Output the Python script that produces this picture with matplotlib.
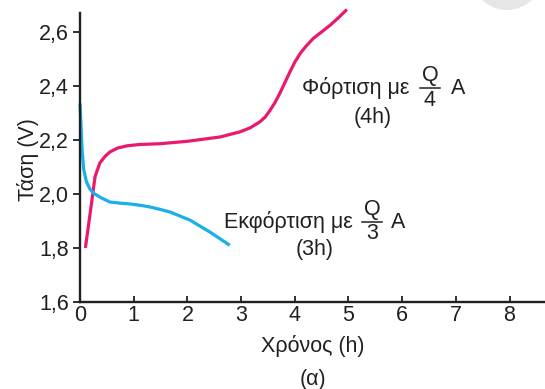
import matplotlib
matplotlib.use("Agg")
import matplotlib.pyplot as plt
from matplotlib.lines import Line2D
from matplotlib.patches import Circle
from matplotlib.transforms import IdentityTransform

plt.rcParams['font.family'] = ['Liberation Sans', 'DejaVu Sans']

# Data
charge_x = [0.10, 0.19, 0.28, 0.37, 0.47, 0.56, 0.70, 0.87, 1.10, 1.49, 2.00, 2.61,
            2.98, 3.17, 3.35, 3.45, 3.54, 3.63, 3.72, 3.91, 4.00, 4.10, 4.20, 4.34,
            4.50, 4.66, 4.80, 4.97]
charge_y = [1.80, 1.93, 2.064, 2.115, 2.140, 2.156, 2.170, 2.178, 2.183, 2.186, 2.195, 2.211,
            2.230, 2.245, 2.267, 2.285, 2.310, 2.338, 2.372, 2.452, 2.488, 2.520, 2.545, 2.575,
            2.600, 2.625, 2.650, 2.683]
discharge_x = [0.0, 0.02, 0.04, 0.07, 0.12, 0.18, 0.25, 0.40, 0.56, 0.75, 0.93, 1.12, 1.30,
               1.49, 1.68, 2.05, 2.42, 2.79]
discharge_y = [2.335, 2.25, 2.16, 2.09, 2.045, 2.02, 2.003, 1.985, 1.970, 1.966, 1.963, 1.958,
               1.952, 1.943, 1.933, 1.903, 1.859, 1.81]

x_ticks = [0, 1, 2, 3, 4, 5, 6, 7, 8]
y_ticks = [1.6, 1.8, 2.0, 2.2, 2.4, 2.6]
y_tick_labels = ['1,6', '1,8', '2,0', '2,2', '2,4', '2,6']

TXT = '#231F20'
PINK = '#E8196F'
BLUE = '#1AAFE6'
FS = 15.5

W, H = 545, 389
fig = plt.figure(figsize=(W / 100, H / 100), dpi=100)
ax = fig.add_axes([80 / W, 1 - 302 / H, (W - 80) / W, (302 - 13) / H])

ax.plot(charge_x, charge_y, color=PINK, lw=2.3, solid_capstyle='butt', clip_on=False)
ax.plot(discharge_x, discharge_y, color=BLUE, lw=2.3, solid_capstyle='butt', clip_on=False)

ax.set_xlim(0, 8.66)
ax.set_ylim(1.6, 2.67)
ax.set_xticks(x_ticks)
ax.set_xticklabels([str(t) for t in x_ticks])
ax.set_yticks(y_ticks)
ax.set_yticklabels(y_tick_labels)

for s in ['top', 'right']:
    ax.spines[s].set_visible(False)
for s in ['left', 'bottom']:
    ax.spines[s].set_linewidth(1.7)
    ax.spines[s].set_color(TXT)
ax.tick_params(axis='x', direction='in', length=4, width=1.3, color=TXT,
               labelsize=FS, labelcolor=TXT, pad=2)
ax.tick_params(axis='y', direction='out', length=5, width=1.3, color=TXT,
               labelsize=FS, labelcolor=TXT, pad=3)
ax.patch.set_alpha(0)

def ftext(px, py, s, **kw):
    fig.text(px / W, 1 - py / H, s, color=TXT, **kw)

def fline(x0, x1, py):
    fig.add_artist(Line2D([x0 / W, x1 / W], [1 - py / H, 1 - py / H],
                          transform=fig.transFigure, color=TXT, lw=1.1))

ftext(28, 160, 'Τάση (V)', rotation=90, ha='center', va='center', fontsize=FS)
ftext(313, 346, 'Χρόνος (h)', ha='center', va='center', fontsize=FS)
ftext(313, 380, '(α)', ha='center', va='center', fontsize=FS)

# Charge annotation
ftext(356, 88, 'Φόρτιση με', ha='center', va='center', fontsize=FS)
ftext(430, 76, 'Q', ha='center', va='center', fontsize=FS)
fline(420, 440, 88)
ftext(430, 101, '4', ha='center', va='center', fontsize=FS)
ftext(458, 88, 'A', ha='center', va='center', fontsize=FS)
ftext(373, 118, '(4h)', ha='center', va='center', fontsize=FS)

# Discharge annotation
ftext(288, 222, 'Εκφόρτιση με', ha='center', va='center', fontsize=FS)
ftext(372, 209, 'Q', ha='center', va='center', fontsize=FS)
fline(362, 382, 222)
ftext(372, 234, '3', ha='center', va='center', fontsize=FS)
ftext(398, 222, 'A', ha='center', va='center', fontsize=FS)
ftext(315, 250, '(3h)', ha='center', va='center', fontsize=FS)

# Decorative grey circle at top right
fig.add_artist(Circle((507, H + 26), 36, transform=IdentityTransform(),
                      facecolor='#E6E6E6', edgecolor='none'))

fig.savefig('out.png', dpi=100)
